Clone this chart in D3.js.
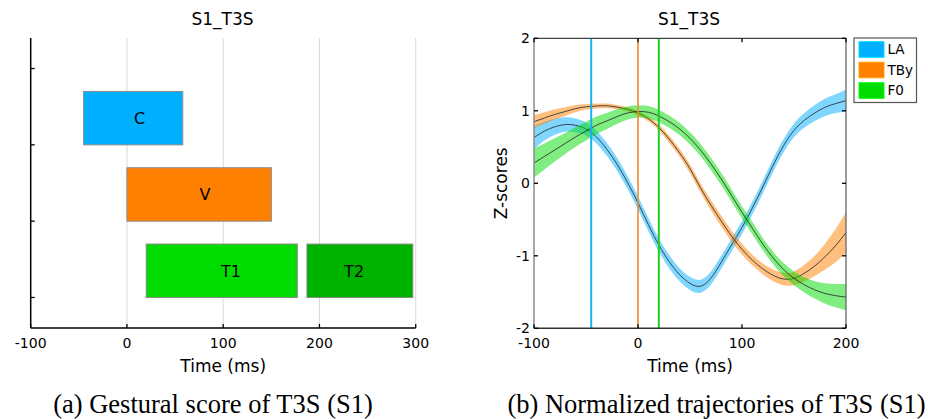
<!DOCTYPE html>
<html><head><meta charset="utf-8">
<script src="https://cdn.jsdelivr.net/npm/d3@7"></script>
<style>
html,body{margin:0;padding:0;background:#fff;}
svg{display:block;font-family:"DejaVu Sans",Verdana,sans-serif;}
</style></head><body>
<svg id="fig" width="928" height="419"></svg>
<script>
// ---- (a) gestural score ----
const gestures = ["C", "V", "T1", "T2"];
const gestureStart = [-45, 0, 20, 187];
const gestureEnd = [58, 150, 177, 297];
const gestureRow = [3, 2, 1, 1];
const gestureLabelAt = [13, 81, 108, 236];
const gestureColors = ["#00b0ff", "#ff8000", "#00dc00", "#00b200"];
const scoreTicksX = [-100, 0, 100, 200, 300];
const scoreTicksY = [1, 2, 3, 4];

// ---- (b) normalized trajectories (mean and half-width of the band) ----
const timeMs = [-100, -90, -80, -70, -60, -50, -40, -30, -20, -10, 0, 10, 20, 30, 40, 50,
  60, 70, 80, 90, 100, 110, 120, 130, 140, 150, 160, 170, 180, 190, 200];
const laMean = [0.63, 0.72, 0.78, 0.81, 0.80, 0.75, 0.64, 0.47, 0.26, 0.01, -0.27, -0.57, -0.85, -1.08,
  -1.26, -1.38, -1.42, -1.31, -1.09, -0.85, -0.61, -0.34, -0.05, 0.25, 0.52, 0.73, 0.87, 0.97, 1.05, 1.10, 1.14];
const laSpread = [0.16, 0.13, 0.11, 0.10, 0.095, 0.09, 0.09, 0.09, 0.09, 0.09, 0.09, 0.09, 0.09, 0.09,
  0.09, 0.09, 0.09, 0.09, 0.09, 0.09, 0.09, 0.09, 0.09, 0.09, 0.09, 0.095, 0.10, 0.11, 0.12, 0.13, 0.15];
const tbyMean = [0.85, 0.90, 0.95, 0.99, 1.03, 1.055, 1.066, 1.07, 1.05, 1.02, 0.97, 0.89, 0.77, 0.61,
  0.42, 0.20, -0.06, -0.30, -0.52, -0.73, -0.91, -1.06, -1.18, -1.27, -1.32, -1.31, -1.24, -1.14, -1.01, -0.86, -0.68];
const tbySpread = [0.09, 0.08, 0.07, 0.06, 0.05, 0.04, 0.035, 0.03, 0.03, 0.03, 0.03, 0.035, 0.04, 0.05,
  0.055, 0.06, 0.065, 0.07, 0.075, 0.075, 0.075, 0.075, 0.075, 0.08, 0.085, 0.095, 0.115, 0.14, 0.18, 0.23, 0.28];
const f0Mean = [0.28, 0.37, 0.46, 0.55, 0.64, 0.72, 0.80, 0.86, 0.92, 0.97, 0.99, 0.98, 0.93, 0.85,
  0.75, 0.62, 0.46, 0.27, 0.06, -0.17, -0.40, -0.62, -0.84, -1.03, -1.19, -1.31, -1.40, -1.47, -1.52, -1.55, -1.57];
const f0Spread = [0.20, 0.18, 0.16, 0.145, 0.135, 0.13, 0.12, 0.11, 0.10, 0.09, 0.085, 0.085, 0.085, 0.085,
  0.085, 0.085, 0.085, 0.085, 0.085, 0.085, 0.085, 0.085, 0.085, 0.085, 0.09, 0.095, 0.105, 0.12, 0.14, 0.16, 0.18];
const signalNames = ["LA", "TBy", "F0"];
const signalColors = ["#00b0ff", "#ff8000", "#00dc00"];
const onsetLineColors = ["#1ab0ee", "#f08a30", "#22cc22"];
const signalOnsets = [-45, 0, 20];
const trajTicksX = [-100, 0, 100, 200];
const trajTicksY = [-2, -1, 0, 1, 2];

const svg = d3.select("#fig");
const tickLen = 4;

// ======== panel (a) ========
const xa = d3.scaleLinear().domain([-100, 300]).range([30.7, 415.7]);
const ya = d3.scaleLinear().domain([0.6, 4.4]).range([328, 38]);
const pa = svg.append("g");

pa.append("text").attr("x", 222.5).attr("y", 25).attr("text-anchor", "middle")
  .attr("font-size", 17).text("S1_T3S");

// vertical grid
pa.selectAll("line.grid").data(scoreTicksX.filter(d => d > -100)).join("line")
  .attr("x1", d => xa(d)).attr("x2", d => xa(d)).attr("y1", ya(4.4)).attr("y2", ya(0.6))
  .attr("stroke", "#d9d9d9").attr("stroke-width", 1);

// bars
const bars = gestures.map((g, i) => ({name: g, s: gestureStart[i], e: gestureEnd[i], row: gestureRow[i],
  lab: gestureLabelAt[i], color: gestureColors[i]}));
pa.selectAll("rect.bar").data(bars).join("rect")
  .attr("x", d => xa(d.s)).attr("width", d => xa(d.e) - xa(d.s))
  .attr("y", d => ya(d.row + 0.7)).attr("height", d => ya(d.row) - ya(d.row + 0.7))
  .attr("fill", d => d.color).attr("stroke", "#8a8a8a").attr("stroke-width", 1);
pa.selectAll("text.bar").data(bars).join("text")
  .attr("x", d => xa(d.lab)).attr("y", d => ya(d.row + 0.35)).attr("dy", "0.36em")
  .attr("text-anchor", "middle").attr("font-size", 16).text(d => d.name);

// axes
pa.append("line").attr("x1", xa(-100)).attr("x2", xa(-100)).attr("y1", ya(4.4)).attr("y2", ya(0.6))
  .attr("stroke", "#000").attr("stroke-width", 1.5);
pa.append("line").attr("x1", xa(-100)).attr("x2", xa(300)).attr("y1", ya(0.6)).attr("y2", ya(0.6))
  .attr("stroke", "#000").attr("stroke-width", 1.5);
pa.selectAll("line.yt").data(scoreTicksY).join("line")
  .attr("x1", xa(-100)).attr("x2", xa(-100) + tickLen).attr("y1", d => ya(d)).attr("y2", d => ya(d))
  .attr("stroke", "#000").attr("stroke-width", 1.3);
pa.selectAll("line.xt").data(scoreTicksX).join("line")
  .attr("x1", d => xa(d)).attr("x2", d => xa(d)).attr("y1", ya(0.6)).attr("y2", ya(0.6) - tickLen)
  .attr("stroke", "#000").attr("stroke-width", 1.3);
pa.selectAll("text.xt").data(scoreTicksX).join("text")
  .attr("x", d => xa(d)).attr("y", 348).attr("text-anchor", "middle").attr("font-size", 14).text(d => d);
pa.append("text").attr("x", xa(100)).attr("y", 372).attr("text-anchor", "middle")
  .attr("font-size", 17).text("Time (ms)");

// ======== panel (b) ========
const xb = d3.scaleLinear().domain([-100, 200]).range([534, 846]);
const yb = d3.scaleLinear().domain([-2, 2]).range([328.3, 38.3]);
const pb = svg.append("g");

pb.append("text").attr("x", 689).attr("y", 25).attr("text-anchor", "middle")
  .attr("font-size", 17).text("S1_T3S");

svg.append("clipPath").attr("id", "plotclip").append("rect")
  .attr("x", xb(-100)).attr("y", yb(2)).attr("width", xb(200) - xb(-100)).attr("height", yb(-2) - yb(2));

const spreads = [laSpread, tbySpread, f0Spread];
const series = [laMean, tbyMean, f0Mean].map((m, k) => ({
  color: signalColors[k],
  pts: timeMs.map((t, i) => ({t, m: m[i], s: spreads[k][i]}))
}));

const area = d3.area().curve(d3.curveNatural)
  .x(d => xb(d.t)).y0(d => yb(d.m - d.s)).y1(d => yb(d.m + d.s));
const line = d3.line().curve(d3.curveNatural).x(d => xb(d.t)).y(d => yb(d.m));

const plot = pb.append("g").attr("clip-path", "url(#plotclip)");
series.forEach(s => {
  plot.append("path").attr("d", area(s.pts)).attr("fill", s.color).attr("fill-opacity", 0.5);
  plot.append("path").attr("d", line(s.pts)).attr("fill", "none").attr("stroke", "#222").attr("stroke-width", 0.8);
});

// onset markers
plot.selectAll("line.onset").data(signalOnsets).join("line")
  .attr("x1", d => xb(d)).attr("x2", d => xb(d)).attr("y1", yb(2)).attr("y2", yb(-2))
  .attr("stroke", (d, i) => onsetLineColors[i]).attr("stroke-width", (d, i) => i === 1 ? 1.6 : 2);

// frame
pb.append("line").attr("x1", xb(-100)).attr("x2", xb(-100)).attr("y1", yb(2)).attr("y2", yb(-2))
  .attr("stroke", "#8c8c8c").attr("stroke-width", 1.5);
pb.append("line").attr("x1", xb(-100)).attr("x2", xb(200)).attr("y1", yb(-2)).attr("y2", yb(-2))
  .attr("stroke", "#333").attr("stroke-width", 1.5);
pb.append("line").attr("x1", xb(-100)).attr("x2", xb(200)).attr("y1", yb(2)).attr("y2", yb(2))
  .attr("stroke", "#444").attr("stroke-width", 1.3);
pb.append("line").attr("x1", xb(200)).attr("x2", xb(200)).attr("y1", yb(2)).attr("y2", yb(-2))
  .attr("stroke", "#666").attr("stroke-width", 1.3);

// inward ticks on all four sides
[yb(-2), yb(2)].forEach((y0, side) => {
  pb.selectAll(null).data(trajTicksX).join("line")
    .attr("x1", d => xb(d)).attr("x2", d => xb(d))
    .attr("y1", y0).attr("y2", side === 0 ? y0 - tickLen : y0 + tickLen)
    .attr("stroke", "#000").attr("stroke-width", 1.3);
});
[xb(-100), xb(200)].forEach((x0, side) => {
  pb.selectAll(null).data(trajTicksY).join("line")
    .attr("y1", d => yb(d)).attr("y2", d => yb(d))
    .attr("x1", x0).attr("x2", side === 0 ? x0 + tickLen : x0 - tickLen)
    .attr("stroke", "#000").attr("stroke-width", 1.3);
});
pb.selectAll("text.xt").data(trajTicksX).join("text")
  .attr("x", d => xb(d)).attr("y", 348).attr("text-anchor", "middle").attr("font-size", 14).text(d => d);
pb.selectAll("text.yt").data(trajTicksY).join("text")
  .attr("x", xb(-100) - 4).attr("y", d => yb(d)).attr("dy", "0.36em")
  .attr("text-anchor", "end").attr("font-size", 14).text(d => d);
pb.append("text").attr("x", xb(50)).attr("y", 372).attr("text-anchor", "middle")
  .attr("font-size", 17).text("Time (ms)");
pb.append("text").attr("transform", `translate(507,${yb(0)}) rotate(-90)`)
  .attr("text-anchor", "middle").attr("font-size", 17).text("Z-scores");

// legend
const lg = pb.append("g").attr("transform", "translate(854,38)");
lg.append("rect").attr("width", 62.5).attr("height", 64.5).attr("fill", "#fff")
  .attr("stroke", "#555").attr("stroke-width", 1.2);
signalNames.forEach((n, i) => {
  lg.append("rect").attr("x", 5).attr("y", 3.7 + i * 20.5).attr("width", 25).attr("height", 15.6)
    .attr("fill", signalColors[i]).attr("stroke", d3.color(signalColors[i]).brighter(0.6)).attr("stroke-width", 1);
  lg.append("text").attr("x", 33.5).attr("y", 11.5 + i * 20.5).attr("dy", "0.36em")
    .attr("font-size", 13.5).text(n);
});

// captions
const serif = "'Liberation Serif','Times New Roman',serif";
svg.append("text").attr("x", 213).attr("y", 413).attr("text-anchor", "middle")
  .attr("font-family", serif).attr("font-size", 26.5)
  .text("(a) Gestural score of T3S (S1)");
svg.append("text").attr("x", 716.5).attr("y", 413).attr("text-anchor", "middle")
  .attr("font-family", serif).attr("font-size", 26.5)
  .text("(b) Normalized trajectories of T3S (S1)");
</script>
</body></html>
